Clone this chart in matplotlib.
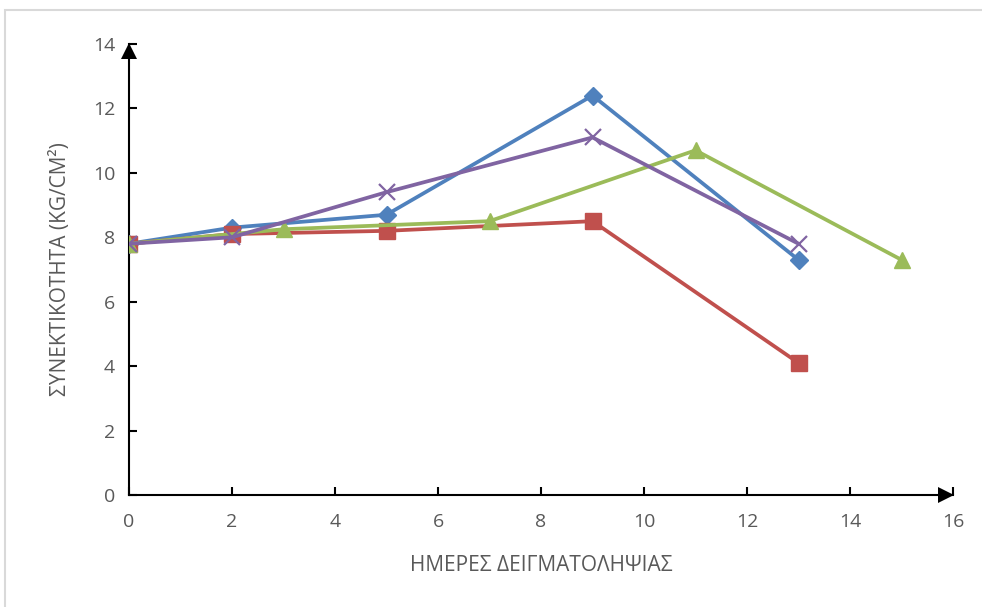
import matplotlib.pyplot as plt
from matplotlib.patches import Rectangle
from matplotlib.transforms import ScaledTranslation

plt.rcParams['font.family'] = ['Open Sans', 'DejaVu Sans']

days_blue = [0, 2, 5, 9, 13]
vals_blue = [7.8, 8.3, 8.7, 12.4, 7.3]
days_red = [0, 2, 5, 9, 13]
vals_red = [7.8, 8.1, 8.2, 8.5, 4.1]
days_green = [0, 3, 7, 11, 15]
vals_green = [7.8, 8.25, 8.5, 10.7, 7.3]
days_purple = [0, 2, 5, 9, 13]
vals_purple = [7.8, 8.0, 9.4, 11.1, 7.8]

text_color = '#595959'

fig = plt.figure(figsize=(9.82, 6.07), dpi=100)
# frame of the chart area, only left and top edges are inside the picture
fig.patches.append(Rectangle((5 / 982, -0.1), 1.2, 1.1 - 10 / 607, transform=fig.transFigure,
                             fill=False, edgecolor='#d9d9d9', linewidth=1.5))
ax = fig.add_axes([129 / 982, 1 - 495 / 607, 824 / 982, 451 / 607])

ax.plot(days_blue, vals_blue, color='#4F81BD', lw=2.7, marker='D', ms=9, zorder=3)
ax.plot(days_red, vals_red, color='#C0504D', lw=2.7, marker='s', ms=11.5, zorder=3)
ax.plot(days_green, vals_green, color='#9BBB59', lw=2.7, marker='^', ms=12, zorder=3)
ax.plot(days_purple, vals_purple, color='#8064A2', lw=2.7, marker='x', ms=11, mew=1.6, zorder=4)

ax.set_xlim(0, 16)
ax.set_ylim(0, 14)
ax.set_xticks(range(0, 17, 2))
ax.set_yticks(range(0, 15, 2))
for s in ['top', 'right']:
    ax.spines[s].set_visible(False)
for s in ['left', 'bottom']:
    ax.spines[s].set_linewidth(1.5)
ax.tick_params(direction='in', length=6, width=1.5, labelsize=14, labelcolor=text_color, pad=10)
ax.tick_params(axis='x', pad=13)

# arrow heads at the ends of the axes, tips at the axis ends
up = ax.transAxes + ScaledTranslation(0, -7 / 100, fig.dpi_scale_trans)
right = ax.transAxes + ScaledTranslation(-7 / 100, 0, fig.dpi_scale_trans)
ax.plot(0, 1, marker='^', color='black', ms=12, mew=0, transform=up, clip_on=False)
ax.plot(1, 0, marker='>', color='black', ms=12, mew=0, transform=right, clip_on=False)

ax.set_xlabel('ΗΜΕΡΕΣ ΔΕΙΓΜΑΤΟΛΗΨΙΑΣ', fontsize=15, color=text_color, labelpad=17)
ax.set_ylabel('ΣΥΝΕΚΤΙΚΟΤΗΤΑ (KG/CM²)', fontsize=15, color=text_color, labelpad=16)

fig.savefig('out.png', dpi=100)
